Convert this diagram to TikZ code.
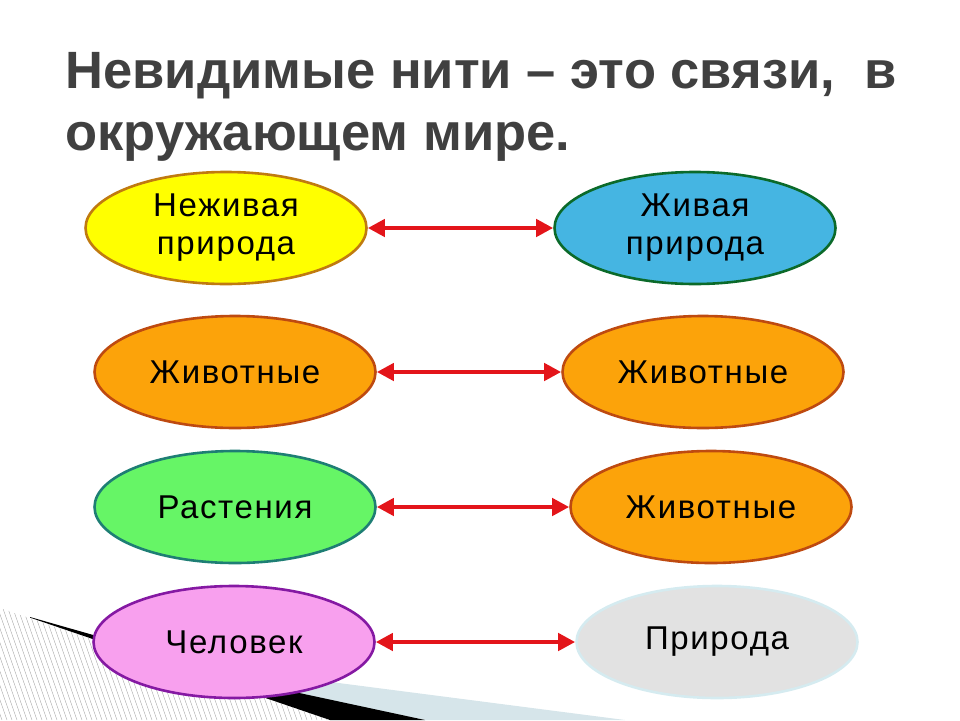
\documentclass[tikz,border=0pt]{standalone}
\usepackage{fontspec}
\setmainfont{Liberation Sans}
\newfontfamily\titlefont{Liberation Sans}
\newfontfamily\labelfont[LetterSpace=5]{Liberation Sans}
\usetikzlibrary{arrows.meta,positioning,shapes.geometric}
\definecolor{titlegray}{HTML}{404040}
\definecolor{linkred}{HTML}{E3151A}
\definecolor{sunfill}{HTML}{FFFF00}
\definecolor{sunline}{HTML}{C07A10}
\definecolor{skyfill}{HTML}{45B5E2}
\definecolor{skyline}{HTML}{0B6A2A}
\definecolor{amberfill}{HTML}{FCA30A}
\definecolor{amberline}{HTML}{BE4A10}
\definecolor{leaffill}{HTML}{66F566}
\definecolor{leafline}{HTML}{1E7E74}
\definecolor{rosefill}{HTML}{F8A0EE}
\definecolor{roseline}{HTML}{8519A3}
\definecolor{mistfill}{HTML}{E2E2E2}
\definecolor{mistline}{HTML}{D5EBF0}
\definecolor{hatchgray}{HTML}{A8A8A8}
\definecolor{paleband}{HTML}{D6E5EA}
\tikzset{
  oval/.style   ={ellipse,line width=2.6pt,minimum width=281pt,minimum height=112pt,
                  inner sep=0pt,align=center,
                  font=\labelfont\fontsize{33}{38}\selectfont},
  headline/.style={anchor=base west,text=titlegray,
                  font=\titlefont\bfseries\fontsize{52.5}{63}\selectfont},
  link/.style   ={{Triangle[length=17pt,width=17pt]}-{Triangle[length=17pt,width=17pt]},
                  line width=4.5pt,draw=linkred}
}
\begin{document}
\begin{tikzpicture}[x=1pt,y=-1pt]
  \useasboundingbox (0,0) rectangle (960,720);
  % slide decoration, lower left
  \fill[paleband] (300,678) -- (625,720) -- (425,720) -- (290,692) -- cycle;
  \begin{scope}
    \clip (0,608) -- (330,720) -- (0,720) -- cycle;
    \foreach \x in {-60,-55,...,340}
      \draw[hatchgray,line width=0.4pt] (\x,600) -- ++(42,120);
  \end{scope}
  \fill[black] (30,617) -- (290,691) -- (425,720) -- (330,720) -- (30,617.6) -- cycle;
  % title
  \node[headline] (title) at (62,88) {Невидимые нити – это связи,\ \ в};
  \node[headline] (title2) at (62,150) {окружающем мире.};
  % ovals
  \node[oval,fill=sunfill,draw=sunline] (lifeless) at (226,228) {Неживая\\природа};
  \node[oval,fill=skyfill,draw=skyline] (living) at (695,228) {Живая\\природа};
  \node[oval,fill=amberfill,draw=amberline] (beastsA) at (235,372) {Животные};
  \node[oval,fill=amberfill,draw=amberline] (beastsB) at (703,372) {Животные};
  \node[oval,fill=leaffill,draw=leafline] (plants) at (235,507) {Растения};
  \node[oval,fill=amberfill,draw=amberline] (beastsC) at (711,507) {Животные};
  \node[oval,fill=rosefill,draw=roseline] (human) at (234,642) {Человек};
  \node[oval,fill=mistfill,draw=mistline] (nature) at (717,642) {Природа};
  % links
  \draw[link] (lifeless) -- (living);
  \draw[link] (beastsA) -- (beastsB);
  \draw[link] (plants) -- (beastsC);
  \draw[link] (human) -- (nature);
\end{tikzpicture}
\end{document}
